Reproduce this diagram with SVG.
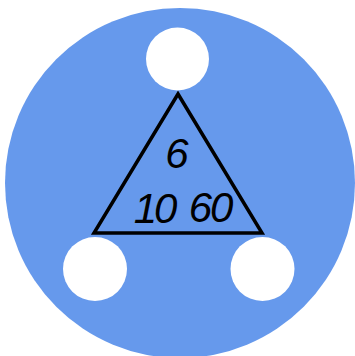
<svg xmlns="http://www.w3.org/2000/svg" width="355" height="356" viewBox="0 0 355 356">
<style>
.bg{fill:#6699ec}
.slot{fill:#ffffff}
.tri{fill:none;stroke:#000;stroke-width:3.5;stroke-linejoin:miter}
.num{font-family:"Liberation Sans","DejaVu Sans",sans-serif;font-style:italic;font-size:42px;fill:#000;text-anchor:middle}
</style>
<circle class="bg" cx="180" cy="183" r="175"/>
<g id="top"><circle class="slot" cx="177.5" cy="59" r="31.5"/></g>
<g id="left"><circle class="slot" cx="95" cy="269" r="32"/></g>
<g id="right"><circle class="slot" cx="262.5" cy="269" r="32"/></g>
<g id="triangle">
<polygon class="tri" points="178,94 94,233 262,233"/>
<text class="num" x="177" y="168">6</text>
<text class="num" x="154" y="223" letter-spacing="-3">10</text>
<text class="num" x="210" y="222" letter-spacing="-2">60</text>
</g>
</svg>
